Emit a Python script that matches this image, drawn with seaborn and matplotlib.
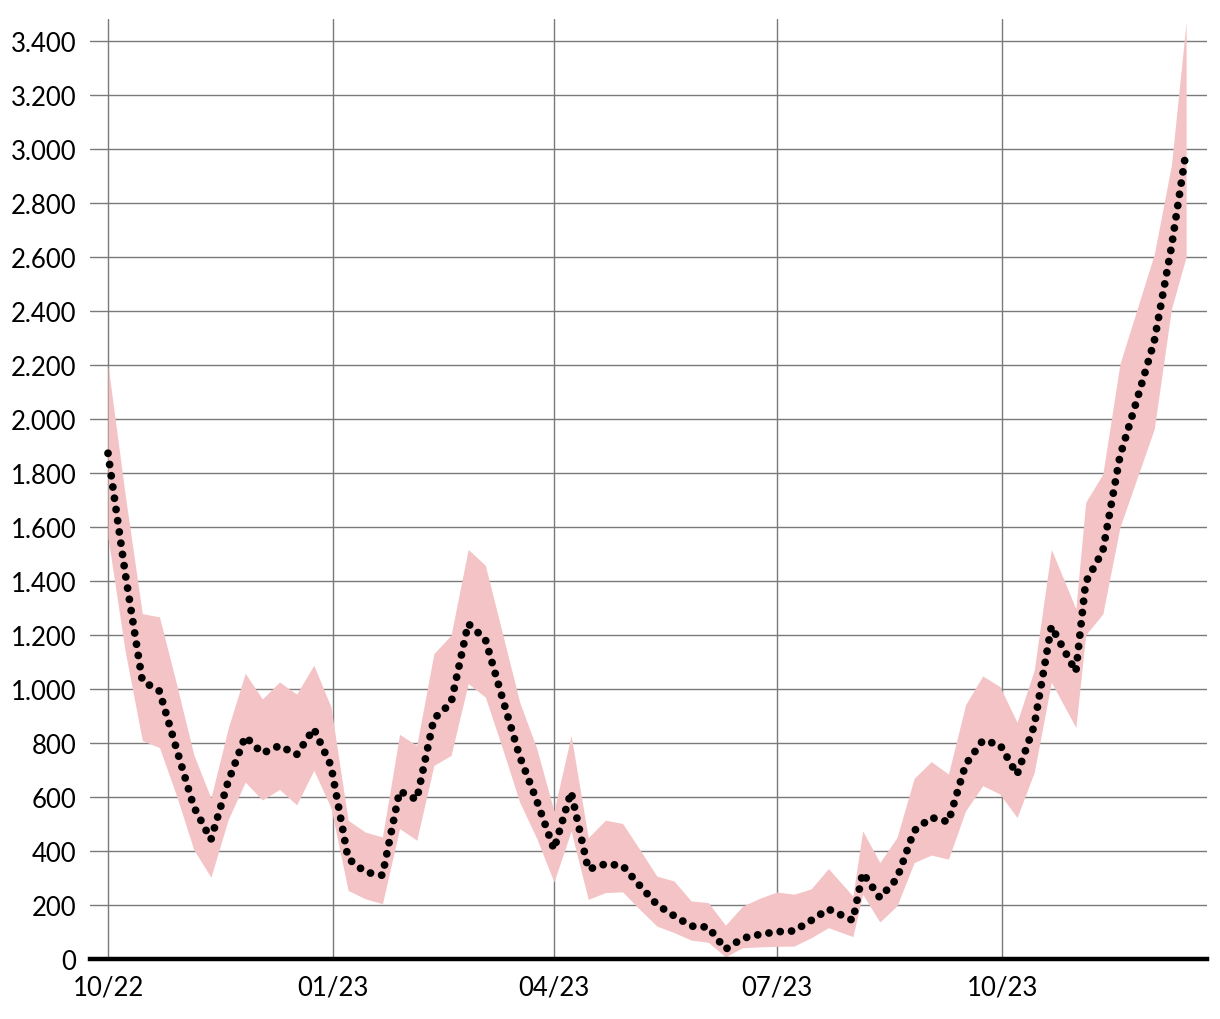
import matplotlib
matplotlib.use("Agg")
import matplotlib.pyplot as plt
import matplotlib.dates as mdates
import matplotlib.ticker as mticker
import seaborn as sns
import pandas as pd

dates = [
    "2022-10-01", "2022-10-08", "2022-10-15", "2022-10-22", "2022-10-29",
    "2022-11-05", "2022-11-12", "2022-11-19", "2022-11-26", "2022-12-03",
    "2022-12-10", "2022-12-17", "2022-12-24", "2022-12-31", "2023-01-07",
    "2023-01-14", "2023-01-21", "2023-01-28", "2023-02-04", "2023-02-11",
    "2023-02-18", "2023-02-25", "2023-03-04", "2023-03-11", "2023-03-18",
    "2023-03-25", "2023-04-01", "2023-04-08", "2023-04-15", "2023-04-22",
    "2023-04-29", "2023-05-06", "2023-05-13", "2023-05-20", "2023-05-27",
    "2023-06-03", "2023-06-10", "2023-06-17", "2023-06-24", "2023-07-01",
    "2023-07-08", "2023-07-15", "2023-07-22", "2023-08-01", "2023-08-05",
    "2023-08-12", "2023-08-19", "2023-08-26", "2023-09-02", "2023-09-09",
    "2023-09-16", "2023-09-23", "2023-09-30", "2023-10-07", "2023-10-14",
    "2023-10-21", "2023-10-31", "2023-11-04", "2023-11-11", "2023-11-18",
    "2023-11-25", "2023-12-02", "2023-12-09", "2023-12-15",
]

estimate = [
    1873, 1430, 1030, 992, 777, 564, 442, 656, 824, 762,
    790, 757, 853, 716, 372, 322, 310, 622, 590, 890,
    948, 1242, 1184, 965, 751, 586, 406, 619, 332, 352,
    346, 272, 202, 160, 122, 118, 36, 77, 91, 101,
    104, 143, 185, 143, 319, 227, 298, 475, 524, 508,
    720, 809, 794, 683, 864, 1232, 1064, 1395, 1511, 1862,
    2073, 2288, 2636, 2992,
]

upper = [
    2200, 1720, 1279, 1267, 1017, 757, 596, 853, 1058, 963,
    1026, 981, 1088, 933, 514, 470, 452, 832, 791, 1131,
    1199, 1517, 1458, 1205, 952, 779, 548, 828, 449, 514,
    502, 406, 307, 289, 215, 209, 125, 196, 225, 248,
    240, 260, 335, 233, 475, 357, 450, 669, 731, 685,
    942, 1048, 1009, 877, 1069, 1517, 1297, 1691, 1796, 2204,
    2407, 2610, 2940, 3470,
]

lower = [
    1560, 1140, 809, 783, 604, 405, 303, 515, 655, 589,
    628, 571, 699, 560, 254, 223, 205, 483, 440, 717,
    754, 1020, 970, 779, 581, 446, 285, 474, 221, 246,
    249, 184, 122, 98, 70, 62, 8, 42, 45, 47,
    48, 79, 116, 83, 240, 137, 197, 357, 385, 370,
    549, 642, 611, 524, 691, 1025, 857, 1200, 1278, 1599,
    1781, 1963, 2407, 2600,
]

y_ticks = [0, 200, 400, 600, 800, 1000, 1200, 1400, 1600, 1800,
           2000, 2200, 2400, 2600, 2800, 3000, 3200, 3400]
x_ticks = ["2022-10-01", "2023-01-01", "2023-04-01", "2023-07-01", "2023-10-01"]

df = pd.DataFrame({
    "date": pd.to_datetime(dates),
    "estimate": estimate,
    "upper": upper,
    "lower": lower,
})

sns.set_theme(style="white")
plt.rcParams["font.family"] = ["Lato", "DejaVu Sans"]

fig = plt.figure(figsize=(12.2, 10.2), dpi=100)
ax = fig.add_axes([0.0738, 0.0588, 0.9155, 0.9216])

ax.fill_between(df["date"], df["lower"], df["upper"],
                color="#f4c3c6", linewidth=0, zorder=1)
sns.lineplot(data=df, x="date", y="estimate", ax=ax, color="black",
             linewidth=5.6, zorder=3, legend=False)
line = ax.lines[-1]
line.set_dashes((0.01, 1.45))
line.set_dash_capstyle("round")
line.set_solid_capstyle("round")

ax.set_xlim(pd.Timestamp("2022-09-23 16:00"), pd.Timestamp("2023-12-23 12:00"))
ax.set_ylim(0, 3481)

ax.set_yticks(y_ticks)
ax.yaxis.set_major_formatter(mticker.FuncFormatter(
    lambda v, p: f"{int(v):,}".replace(",", ".")))
ax.set_xticks(pd.to_datetime(x_ticks))
ax.xaxis.set_major_formatter(mdates.DateFormatter("%m/%y"))

ax.grid(True, axis="both", color="#7a7a7a", linewidth=1.0, zorder=0)
ax.set_axisbelow(True)
for side in ["left", "right", "top"]:
    ax.spines[side].set_visible(False)
ax.spines["bottom"].set_color("black")
ax.spines["bottom"].set_linewidth(3.2)
ax.spines["bottom"].set_zorder(4)

ax.tick_params(axis="both", length=0, labelsize=18.5, colors="black")
ax.tick_params(axis="y", pad=10)
ax.tick_params(axis="x", pad=11)
ax.set_xlabel("")
ax.set_ylabel("")

fig.savefig("out.png", dpi=100)
